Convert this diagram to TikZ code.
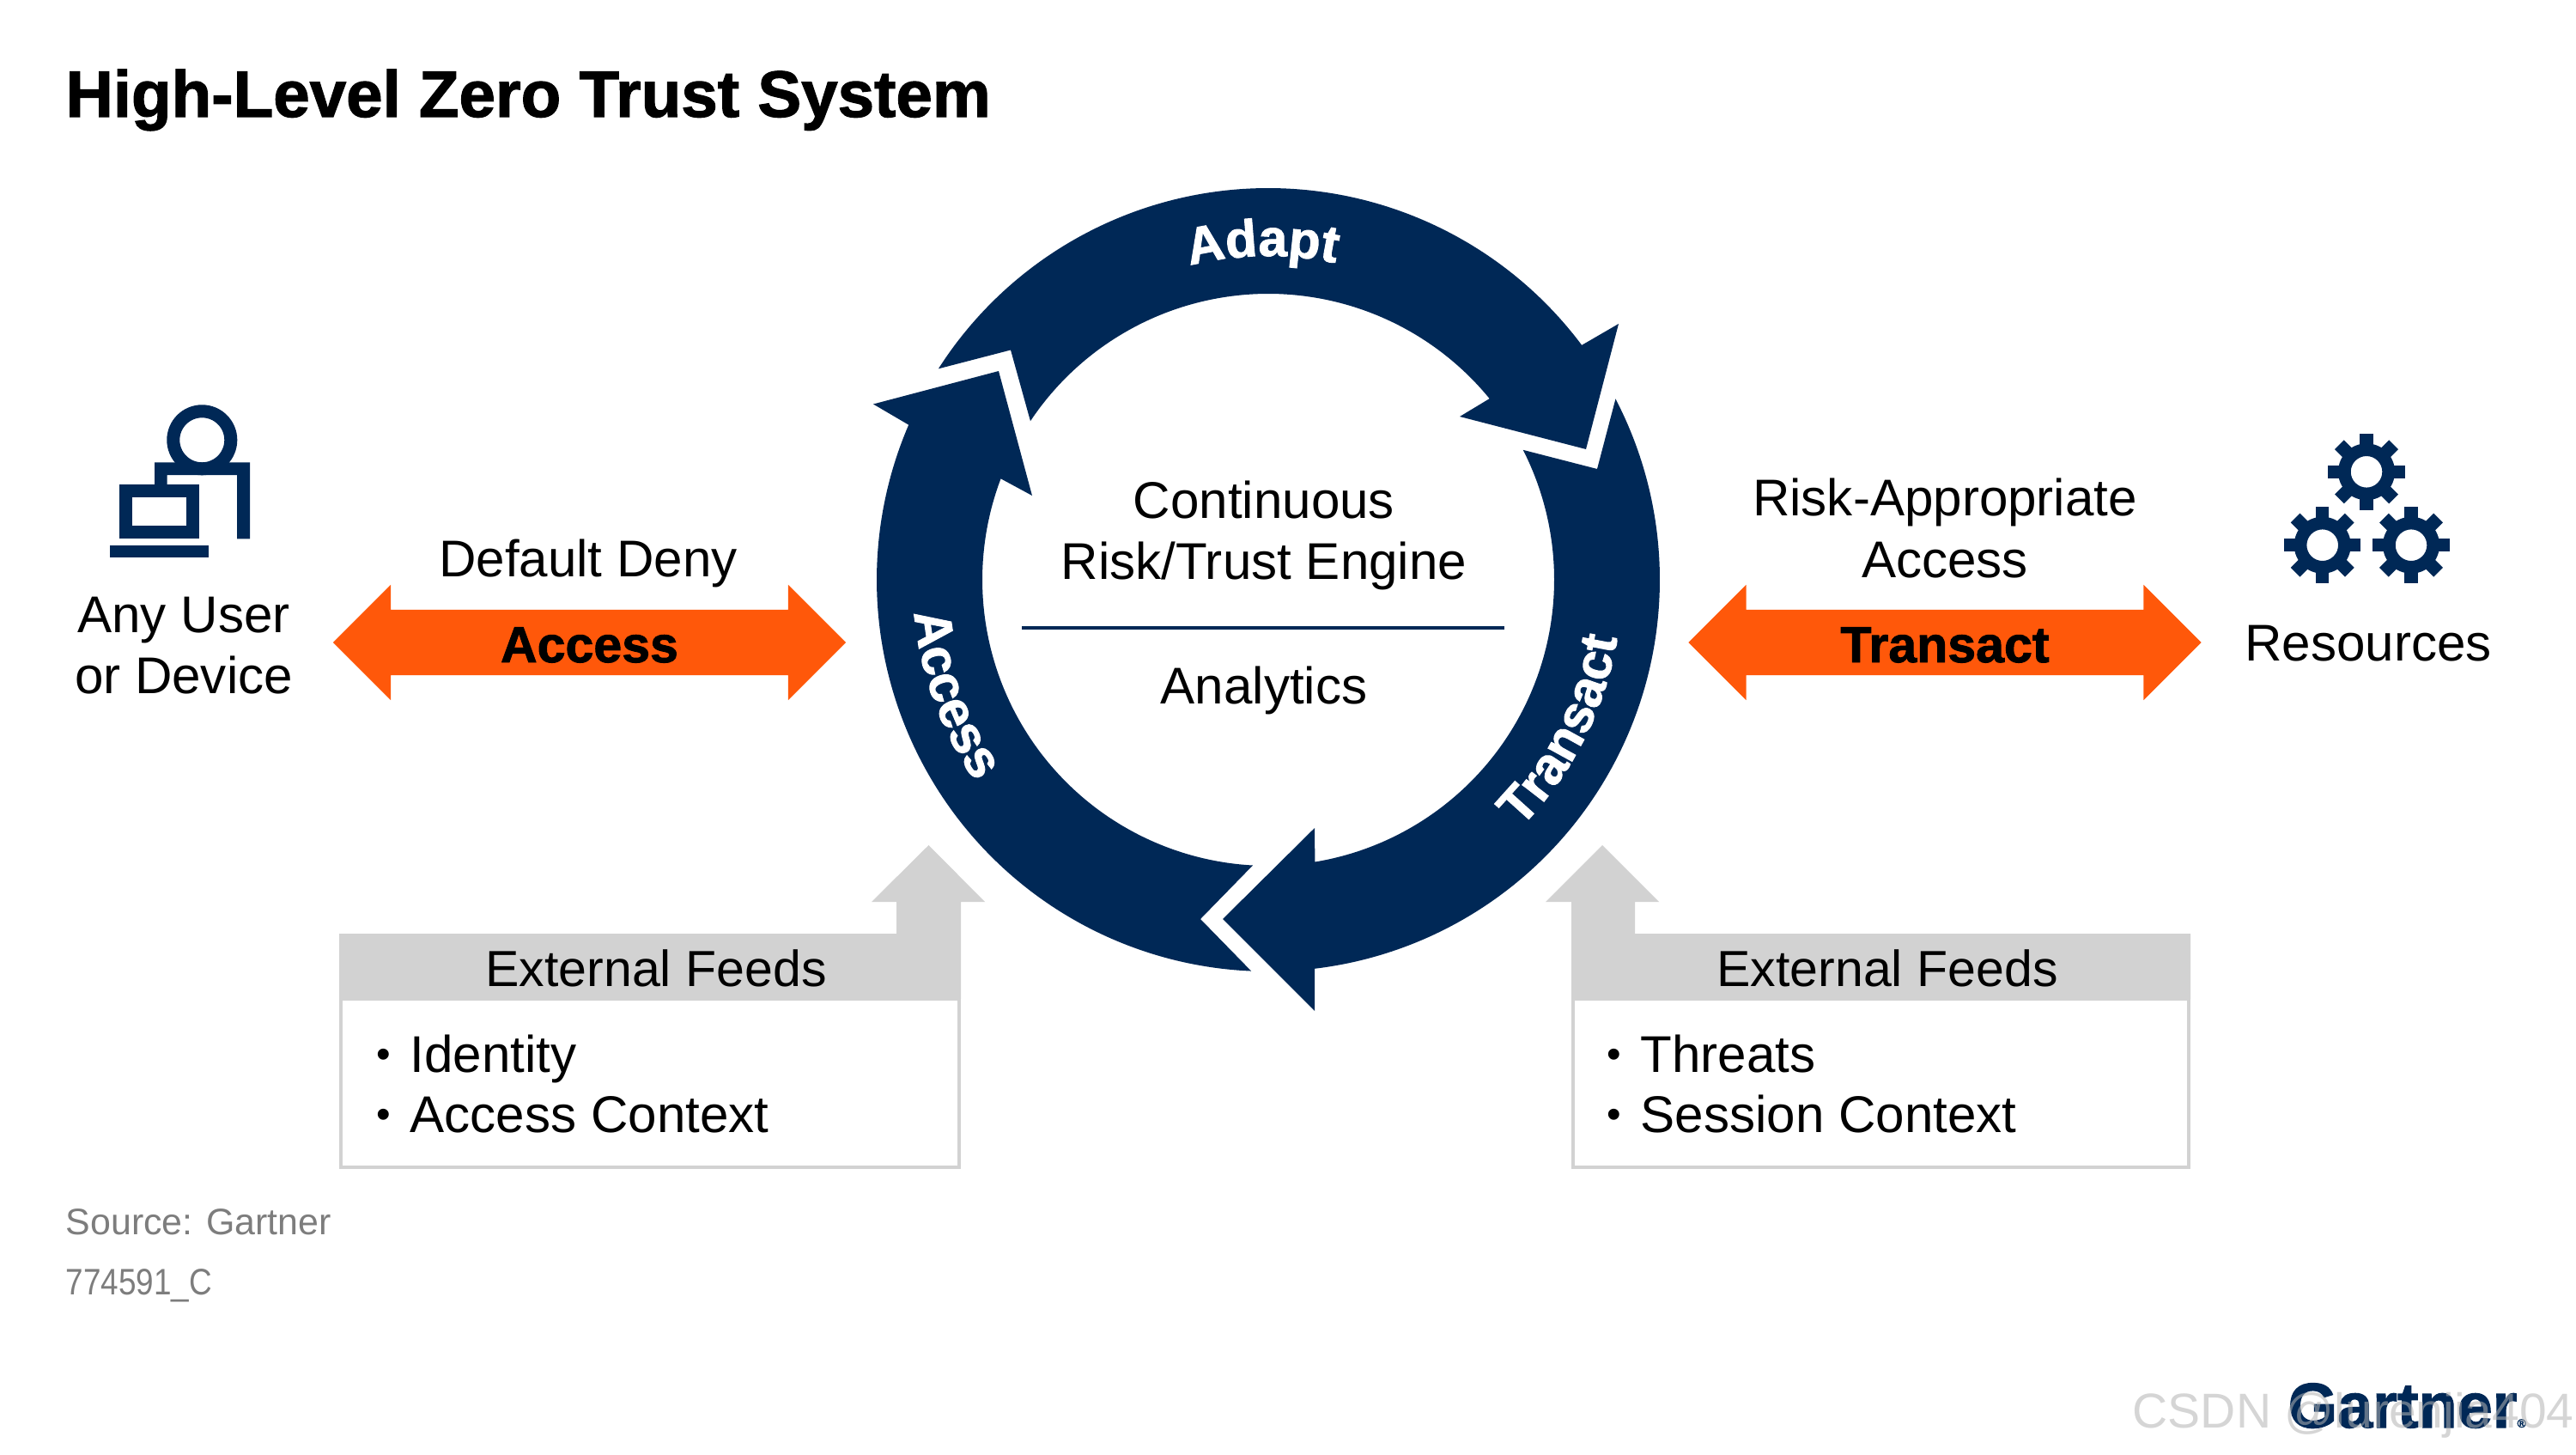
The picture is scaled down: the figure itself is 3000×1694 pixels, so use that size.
\documentclass[tikz,border=0pt]{standalone}
\usepackage{xcolor}
\usepackage{fontspec}
\setmainfont[BoldFeatures={FakeBold=1.6}]{Liberation Sans}
\usepackage{tikz}
\usetikzlibrary{shapes.arrows, calc, decorations.text}
\definecolor{mynavy}{RGB}{0,40,86}
\definecolor{myorange}{RGB}{255,88,10}
\definecolor{mygrey}{RGB}{210,210,210}
\definecolor{mynote}{RGB}{125,125,125}
\newcommand{\bodyfont}{\fontsize{17.1pt}{20.2pt}\selectfont}
\newcommand{\ringfont}{\fontsize{17.2pt}{18pt}\selectfont\bfseries\color{white}}
\newcommand{\feedbullet}{\makebox[0.39cm][l]{\raisebox{0.07em}{\fontsize{13.5pt}{13.5pt}\selectfont •}}}
\tikzset{
  label/.style={inner sep=0pt, font=\bodyfont, align=center, text=black},
  feedhead/.style={inner sep=0pt, font=\fontsize{16.8pt}{20.2pt}\selectfont, anchor=base, text=black},
  feeditem/.style={inner sep=0pt, font=\bodyfont, anchor=base west, text=black},
  noteline/.style={inner sep=0pt, font=\fontsize{12.2pt}{14pt}\selectfont, anchor=base west, text=mynote},
  ringarrow/.style={fill=mynavy},
  ringlabel/.style={decorate, decoration={text along path, text align=center, text={#1}}},
  feedshape/.style={fill=mygrey},
  feedbox/.style={draw=mygrey, line width=0.04cm},
  bothways/.style={double arrow, fill=myorange, inner sep=0pt, text=black,
    font=\fontsize{16.8pt}{18pt}\selectfont\bfseries,
    text height=0.605cm, text depth=0.145cm,
    minimum height=5.97cm, minimum width=1.33cm,
    double arrow head extend=0.29cm, double arrow head indent=0pt, double arrow tip angle=90},
  pics/gearicon/.style={code={
    \fill[mynavy, even odd rule] (0,0) circle[radius=33] (0,0) circle[radius=18.3];
    \foreach \a in {0,45,...,315}
      \fill[mynavy, rotate=\a] (26,-7.6) rectangle (44.7,7.6);
  }}
}
\begin{document}
\begin{tikzpicture}[x=0.01cm, y=-0.01cm]
  \useasboundingbox (0,0) rectangle (3000,1694);
  \coordinate (ring) at (1477,675);

  \node[inner sep=0pt, anchor=base west, font=\fontsize{21.7pt}{24pt}\selectfont\bfseries] (title) at (76,136) {High-Level Zero Trust System};

  % the three ring arrows
  \fill[ringarrow] ($(ring)+(-147.4:456)$) arc[start angle=-147.4, end angle=-36.8, radius=456]
    -- (1885,377) -- (1847,523) -- (1700,485) -- ($(ring)+(-39.3:333)$)
    arc[start angle=-39.3, end angle=-146.3, radius=333] -- (1177,407.5) -- cycle;
  \fill[ringarrow] ($(ring)+(-27.5:456)$) arc[start angle=-27.5, end angle=83.2, radius=456]
    -- (1531,1177) -- (1424,1070) -- (1531,964) -- ($(ring)+(80.6:333)$)
    arc[start angle=80.6, end angle=-27, radius=333] -- (1860,546) -- cycle;
  \fill[ringarrow] ($(ring)+(92.5:456)$) arc[start angle=92.5, end angle=203.3, radius=456]
    -- (1017,470.5) -- (1163,432) -- (1202,577) -- ($(ring)+(200.7:333)$)
    arc[start angle=200.7, end angle=93.1, radius=333] -- (1398,1070) -- cycle;

  \path[ringlabel={|\ringfont|Adapt}] ($(ring)+(-121:377)$) arc[start angle=-121, end angle=-61, radius=377];
  \path[ringlabel={|\ringfont|Access}] ($(ring)+(190:414)$) arc[start angle=190, end angle=130, radius=414];
  \path[ringlabel={|\ringfont|Transact}] ($(ring)+(57:412)$) arc[start angle=57, end angle=-3, radius=412];

  \node[label] (engine) at (1472,623) {Continuous\\Risk/Trust Engine};
  \node[label] (analytics) at (1472,804) {Analytics};
  \draw[mynavy, line width=0.04cm] (1190,730.5) -- (1752,730.5);

  % user icon
  \fill[mynavy] (139,564.3) rectangle (231.7,627.3);
  \fill[white] (154,579.3) rectangle (216.7,612.3);
  \fill[mynavy] (127.7,634.7) rectangle (243,649.3);
  \fill[mynavy] (180,538.3) -- (291,538.3) -- (291,627.3) -- (276,627.3) -- (276,553) -- (194.7,553) -- (194.7,564.3) -- (180,564.3) -- cycle;
  \draw[mynavy, line width=0.15cm] (235.3,512.3) circle[radius=33.5];
  \node[label] (user) at (214,752) {Any User\\or Device};

  % resource icon
  \pic at (2756,549.3) {gearicon};
  \pic at (2704.7,634.7) {gearicon};
  \pic at (2808,634.7) {gearicon};
  \node[label, anchor=base] (resources) at (2758,769) {Resources};

  \node[label, anchor=base] (deny) at (685,671) {Default Deny};
  \node[bothways] (accessarrow) at (686.5,748) {Access};
  \node[label] (riskaccess) at (2265,615) {Risk-Appropriate\\Access};
  \node[bothways] (transactarrow) at (2265,748) {Transact};

  % external feeds
  \draw[feedbox] (397,1163) rectangle (1117,1359);
  \fill[feedshape] (395,1087) -- (1044,1087) -- (1044,1050) -- (1015,1050) -- (1081.5,984)
    -- (1147,1050) -- (1119,1050) -- (1119,1163) -- (395,1163) -- cycle;
  \node[feedhead] (feedsleft) at (764,1148) {External Feeds};
  \node[feeditem] (identity) at (438,1248) {\feedbullet Identity};
  \node[feeditem] (accesscontext) at (438,1318) {\feedbullet Access Context};

  \draw[feedbox] (1832,1163) rectangle (2549,1359);
  \fill[feedshape] (1830,1163) -- (1830,1050) -- (1800,1050) -- (1866,984) -- (1932,1050)
    -- (1904,1050) -- (1904,1087) -- (2551,1087) -- (2551,1163) -- cycle;
  \node[feedhead] (feedsright) at (2198,1148) {External Feeds};
  \node[feeditem] (threats) at (1871,1248) {\feedbullet Threats};
  \node[feeditem] (sessioncontext) at (1871,1318) {\feedbullet Session Context};

  \node[noteline] (source) at (76,1437) {Source: Gartner};
  \node[noteline] (docid) at (76,1507) {\scalebox{0.86}[1]{774591\_C}};

  \node[inner sep=0pt, anchor=base west, text=mynavy, font=\fontsize{21pt}{24pt}\selectfont\bfseries] (logo) at (2664,1662) {Gartner{\fontsize{4pt}{6pt}\selectfont ®}};
  \node[inner sep=0pt, anchor=base west, text=black!30, opacity=0.55, font=\fontsize{16.2pt}{18pt}\selectfont] (mark) at (2483,1662) {CSDN @lurenjia404};
\end{tikzpicture}
\end{document}
